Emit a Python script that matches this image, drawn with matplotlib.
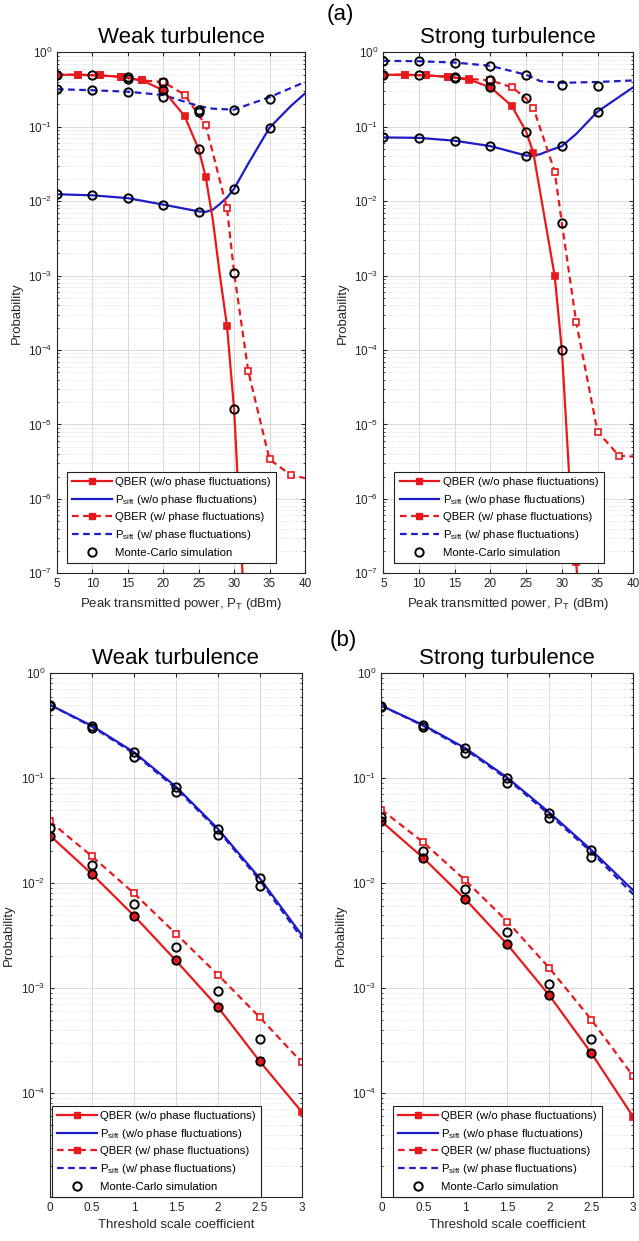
import matplotlib
matplotlib.use("Agg")
import matplotlib.pyplot as plt
from matplotlib.lines import Line2D
from matplotlib.ticker import FixedLocator, LogLocator, NullFormatter

plt.rcParams['font.family'] = ['Liberation Sans', 'DejaVu Sans']
plt.rcParams['mathtext.fontset'] = 'custom'
plt.rcParams['mathtext.rm'] = 'Liberation Sans'
plt.rcParams['mathtext.it'] = 'Liberation Sans:italic'
plt.rcParams['mathtext.default'] = 'regular'

rojo = '#e8191c'
azul = '#1c1cc8'

# ---- (a) vs peak transmitted power (dBm) ----
pot_marcas = [5, 8, 11, 14, 17, 20, 23, 26, 29, 32, 35, 38]

# weak turbulence
debil_qber_wo_x = [5, 8, 11, 14, 17, 20, 23, 25, 26, 27, 28, 29, 30, 31, 32]
debil_qber_wo_y = [0.5, 0.5, 0.49, 0.47, 0.42, 0.31, 0.14, 0.05, 0.021, 5.6e-3, 1.0e-3, 2.1e-4, 1.6e-5, 2.3e-7, 3e-9]
debil_qber_w_x = [5, 8, 11, 14, 17, 20, 23, 26, 29, 30, 32, 35, 38, 40]
debil_qber_w_y = [0.5, 0.5, 0.49, 0.47, 0.42, 0.40, 0.27, 0.105, 8e-3, 1.1e-3, 5.2e-5, 3.4e-6, 2.1e-6, 1.9e-6]
debil_psift_wo_x = [5, 10, 15, 20, 25, 26, 27, 28, 29, 30, 32, 35, 38, 40]
debil_psift_wo_y = [0.0124, 0.012, 0.011, 0.009, 0.0073, 0.0072, 0.0077, 0.0092, 0.0112, 0.0147, 0.032, 0.097, 0.19, 0.28]
debil_psift_w_x = [5, 10, 15, 20, 25, 27, 30, 35, 40]
debil_psift_w_y = [0.32, 0.31, 0.296, 0.267, 0.19, 0.175, 0.17, 0.25, 0.40]
debil_mc_x = [5, 10, 15, 20, 25, 30,
              15, 20, 25, 30,
              5, 10, 15, 20, 25, 30, 35,
              5, 10, 15, 20, 25, 30, 35]
debil_mc_y = [0.5, 0.5, 0.47, 0.31, 0.05, 1.6e-5,
              0.44, 0.40, 0.16, 1.1e-3,
              0.0124, 0.012, 0.011, 0.009, 0.0072, 0.0147, 0.097,
              0.32, 0.31, 0.296, 0.25, 0.17, 0.168, 0.233]

# strong turbulence
fuerte_qber_wo_x = [5, 8, 11, 14, 17, 20, 23, 25, 26, 29, 30, 31, 32, 33]
fuerte_qber_wo_y = [0.5, 0.5, 0.49, 0.47, 0.43, 0.34, 0.19, 0.086, 0.045, 9.8e-4, 1e-4, 2.3e-6, 1.4e-7, 8e-9]
fuerte_qber_w_x = [5, 8, 11, 14, 17, 20, 23, 25, 26, 29, 30, 32, 35, 38, 40]
fuerte_qber_w_y = [0.5, 0.5, 0.49, 0.47, 0.44, 0.42, 0.34, 0.24, 0.18, 0.025, 5.1e-3, 2.4e-4, 8e-6, 3.8e-6, 3.7e-6]
fuerte_psift_wo_x = [5, 10, 15, 20, 25, 26, 27, 28, 30, 32, 35, 40]
fuerte_psift_wo_y = [0.072, 0.071, 0.065, 0.055, 0.041, 0.041, 0.043, 0.047, 0.055, 0.08, 0.16, 0.34]
fuerte_psift_w_x = [5, 10, 15, 20, 25, 27, 30, 35, 40]
fuerte_psift_w_y = [0.77, 0.76, 0.73, 0.66, 0.5, 0.41, 0.39, 0.40, 0.42]
fuerte_mc_x = [5, 10, 15, 20, 25, 30,
               15, 20, 25, 30,
               5, 10, 15, 20, 25, 30, 35,
               5, 10, 15, 20, 25, 30, 35]
fuerte_mc_y = [0.5, 0.5, 0.47, 0.34, 0.086, 1e-4,
               0.45, 0.42, 0.24, 5.1e-3,
               0.072, 0.071, 0.065, 0.055, 0.041, 0.055, 0.16,
               0.77, 0.76, 0.73, 0.66, 0.5, 0.36, 0.35]

# ---- (b) vs threshold scale coefficient ----
umbral = [0, 0.5, 1, 1.5, 2, 2.5, 3]
umbral_mc = [0, 0.5, 1, 1.5, 2, 2.5]

b_debil_psift_wo = [0.50, 0.315, 0.177, 0.083, 0.033, 0.0111, 0.0032]
b_debil_psift_w = [0.50, 0.31, 0.172, 0.080, 0.032, 0.0106, 0.0030]
b_debil_qber_wo = [0.0284, 0.0122, 0.0049, 0.00183, 6.6e-4, 2.0e-4, 6.6e-5]
b_debil_qber_w = [0.0387, 0.018, 0.008, 0.0033, 1.34e-3, 5.25e-4, 1.96e-4]
b_debil_mc = [[0.0284, 0.0122, 0.0049, 0.00183, 6.6e-4, 2.0e-4],
              [0.0334, 0.015, 0.0063, 0.00244, 9.3e-4, 3.27e-4],
              [0.50, 0.315, 0.177, 0.083, 0.033, 0.0111],
              [0.49, 0.30, 0.16, 0.074, 0.029, 0.0094]]

b_fuerte_psift_wo = [0.49, 0.32, 0.193, 0.101, 0.047, 0.0207, 0.0085]
b_fuerte_psift_w = [0.49, 0.315, 0.188, 0.098, 0.045, 0.0198, 0.0078]
b_fuerte_qber_wo = [0.0387, 0.0173, 0.007, 0.0026, 8.5e-4, 2.4e-4, 5.9e-5]
b_fuerte_qber_w = [0.05, 0.0244, 0.0106, 0.0043, 1.55e-3, 5.0e-4, 1.44e-4]
b_fuerte_mc = [[0.0387, 0.0173, 0.007, 0.0026, 8.5e-4, 2.4e-4],
               [0.043, 0.0204, 0.0088, 0.0034, 1.1e-3, 3.3e-4],
               [0.49, 0.32, 0.193, 0.101, 0.047, 0.0207],
               [0.48, 0.305, 0.175, 0.09, 0.042, 0.0176]]

etiquetas = ['QBER (w/o phase fluctuations)',
             'P$_{sift}$ (w/o phase fluctuations)',
             'QBER (w/ phase fluctuations)',
             'P$_{sift}$ (w/ phase fluctuations)',
             'Monte-Carlo simulation']

lw = 1.6
guiones = (3, 2)


def indices(x, marcas):
    return [i for i, v in enumerate(x) if v in marcas]


def curva(ax, x, y, color, discontinua, marcas=None, relleno=True):
    kw = dict(color=color, lw=lw)
    if discontinua:
        kw['ls'] = '--'
        kw['dashes'] = guiones
    if marcas is not None:
        kw.update(marker='s', ms=4.8, mec=color,
                  mfc=color if relleno else 'white', mew=1.2,
                  markevery=indices(x, marcas))
    ax.plot(x, y, **kw)


def leyenda(ax, ancla):
    h = [Line2D([], [], color=rojo, lw=lw, marker='s', ms=5, mfc=rojo, mec=rojo),
         Line2D([], [], color=azul, lw=lw),
         Line2D([], [], color=rojo, lw=lw, ls='--', dashes=guiones, marker='s', ms=5, mfc=rojo, mec=rojo),
         Line2D([], [], color=azul, lw=lw, ls='--', dashes=guiones),
         Line2D([], [], color='k', lw=0, marker='o', ms=6, mfc='none', mew=1.4)]
    ley = ax.legend(h, etiquetas, loc='lower left', bbox_to_anchor=ancla,
                    fontsize=8.2, handlelength=3.5, handletextpad=0.3,
                    labelspacing=0.5, borderpad=0.45, borderaxespad=0,
                    fancybox=False, framealpha=1, edgecolor='#202020', numpoints=1)
    ley.get_frame().set_linewidth(0.8)


def ejes(ax, titulo, xlabel):
    ax.set_yscale('log')
    ax.set_title(titulo, fontsize=16, pad=7)
    ax.set_xlabel(xlabel, fontsize=9.5, color='#262626')
    ax.set_ylabel('Probability', fontsize=9.5, color='#262626')
    ax.yaxis.set_label_coords(-0.138, 0.5)
    ax.yaxis.set_minor_locator(LogLocator(base=10, subs=range(2, 10), numticks=20))
    ax.yaxis.set_minor_formatter(NullFormatter())
    ax.tick_params(which='both', direction='in', top=True, right=True,
                   labelsize=8.5, colors='#262626', length=3)
    ax.tick_params(which='minor', length=1.5)
    ax.grid(True, which='major', color='#d9d9d9', lw=0.7)
    ax.grid(True, which='minor', axis='y', color='#d9d9d9', lw=0.6, ls=':')
    ax.set_axisbelow(True)
    for s in ax.spines.values():
        s.set_color('#262626')
        s.set_linewidth(0.8)


fig = plt.figure(figsize=(6.39, 12.41), dpi=100)

paneles_a = [
    ([0.0892, 0.538, 0.388, 0.4198], 'Weak turbulence',
     debil_qber_wo_x, debil_qber_wo_y, debil_qber_w_x, debil_qber_w_y,
     debil_psift_wo_x, debil_psift_wo_y, debil_psift_w_x, debil_psift_w_y,
     debil_mc_x, debil_mc_y, (0.04, 0.02)),
    ([0.600, 0.538, 0.391, 0.4198], 'Strong turbulence',
     fuerte_qber_wo_x, fuerte_qber_wo_y, fuerte_qber_w_x, fuerte_qber_w_y,
     fuerte_psift_wo_x, fuerte_psift_wo_y, fuerte_psift_w_x, fuerte_psift_w_y,
     fuerte_mc_x, fuerte_mc_y, (0.044, 0.02)),
]

for (pos, tit, qx, qy, qwx, qwy, px, py, pwx, pwy, mx, my, lpos) in paneles_a:
    ax = fig.add_axes(pos)
    curva(ax, px, py, azul, False)
    curva(ax, pwx, pwy, azul, True)
    curva(ax, qwx, qwy, rojo, True, pot_marcas, relleno=False)
    curva(ax, qx, qy, rojo, False, pot_marcas)
    ax.plot(mx, my, 'o', ms=6, mfc='none', mec='k', mew=1.4, zorder=5)
    ejes(ax, tit, 'Peak transmitted power, P$_T$ (dBm)')
    ax.set_xlim(5, 40)
    ax.set_ylim(1e-7, 1)
    ax.xaxis.set_major_locator(FixedLocator([5, 10, 15, 20, 25, 30, 35, 40]))
    ax.yaxis.set_major_locator(LogLocator(base=10, numticks=20))
    leyenda(ax, lpos)

paneles_b = [
    ([0.0782, 0.0355, 0.394, 0.422], 'Weak turbulence',
     b_debil_qber_wo, b_debil_qber_w, b_debil_psift_wo, b_debil_psift_w, b_debil_mc, (0.008, 0.0)),
    ([0.597, 0.0355, 0.394, 0.422], 'Strong turbulence',
     b_fuerte_qber_wo, b_fuerte_qber_w, b_fuerte_psift_wo, b_fuerte_psift_w, b_fuerte_mc, (0.044, 0.0)),
]

for (pos, tit, q, qw, p, pw, mc, lpos) in paneles_b:
    ax = fig.add_axes(pos)
    curva(ax, umbral, p, azul, False)
    curva(ax, umbral, pw, azul, True)
    curva(ax, umbral, qw, rojo, True, umbral, relleno=False)
    curva(ax, umbral, q, rojo, False, umbral)
    for serie in mc:
        ax.plot(umbral_mc, serie, 'o', ms=6, mfc='none', mec='k', mew=1.4, zorder=5)
    ejes(ax, tit, 'Threshold scale coefficient')
    ax.set_xlim(0, 3)
    ax.set_ylim(1.02e-5, 1)
    ax.set_xticks(umbral)
    ax.set_xticklabels(['0', '0.5', '1', '1.5', '2', '2.5', '3'])
    ax.yaxis.set_major_locator(LogLocator(base=10, numticks=20))
    leyenda(ax, lpos)

fig.text(0.532, 0.988, '(a)', fontsize=16, ha='center', va='center')
fig.text(0.537, 0.4835, '(b)', fontsize=16, ha='center', va='center')

fig.savefig('out.png', dpi=100)
